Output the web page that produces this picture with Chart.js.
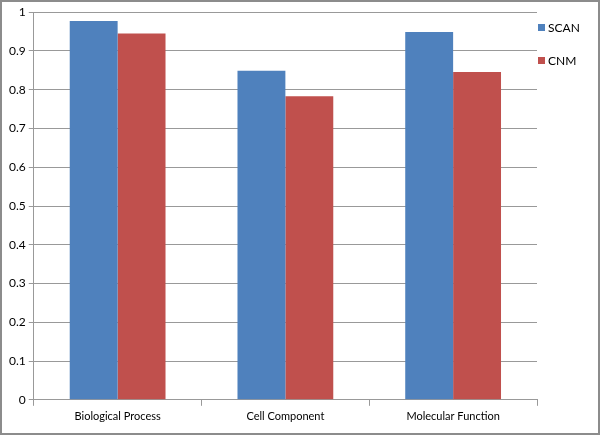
<!DOCTYPE html>
<html>
<head>
<meta charset="utf-8">
<script src="https://cdn.jsdelivr.net/npm/chart.js@4/dist/chart.umd.min.js"></script>
<style>
  html, body { margin:0; padding:0; background:#fff; }
  #wrap { position:relative; width:596px; height:431px; border:2px solid #8c8c8c; background:#fff; }
</style>
</head>
<body>
<div id="wrap"><canvas id="chart" width="596" height="431"></canvas></div>
<script>
  // categories + series
  const categories = ["Biological Process", "Cell Component", "Molecular Function"];
  const scanValues = [0.977, 0.849, 0.949];
  const cnmValues  = [0.945, 0.783, 0.846];
  const yTickLabels = ["0", "0.1", "0.2", "0.3", "0.4", "0.5", "0.6", "0.7", "0.8", "0.9", "1"];

  const FAMILY = "Lato, 'Open Sans', sans-serif";

  // legend sits right against the plot edge, so draw it by hand
  const sideLegend = {
    id: "sideLegend",
    afterDraw(chart) {
      const ctx = chart.ctx;
      const x = chart.chartArea.right + 1;
      ctx.save();
      ctx.font = "12px " + FAMILY;
      ctx.textBaseline = "middle";
      chart.data.datasets.forEach((ds, i) => {
        const cy = 25 + i * 33;
        ctx.fillStyle = ds.backgroundColor;
        ctx.fillRect(x, cy - 3, 7, 7);
        ctx.fillStyle = "#000";
        ctx.fillText(ds.label, x + 10, cy + 1);
      });
      ctx.restore();
    }
  };

  new Chart(document.getElementById("chart"), {
    type: "bar",
    data: {
      labels: categories,
      datasets: [
        { label: "SCAN", data: scanValues, backgroundColor: "#4f81bd", borderWidth: 0 },
        { label: "CNM",  data: cnmValues,  backgroundColor: "#c0504d", borderWidth: 0 }
      ]
    },
    plugins: [sideLegend],
    options: {
      responsive: false,
      animation: false,
      devicePixelRatio: 1,
      layout: { padding: { top: 9, right: 61, bottom: 6, left: 4 } },
      datasets: { bar: { categoryPercentage: 0.571, barPercentage: 1 } },
      plugins: {
        tooltip: { enabled: false },
        legend: { display: false }
      },
      scales: {
        x: {
          grid: { offset: true, drawOnChartArea: false, tickLength: 6, color: "#999" },
          border: { color: "#999" },
          ticks: { color: "#000", font: { family: FAMILY, size: 11 }, padding: 4 }
        },
        y: {
          min: 0, max: 1,
          grid: { color: "#999", tickLength: 5 },
          border: { color: "#999" },
          ticks: {
            stepSize: 0.1, autoSkip: false,
            color: "#000", font: { family: FAMILY, size: 12 }, padding: 3,
            callback: v => yTickLabels[Math.round(v * 10)]
          }
        }
      }
    }
  });
</script>
</body>
</html>
